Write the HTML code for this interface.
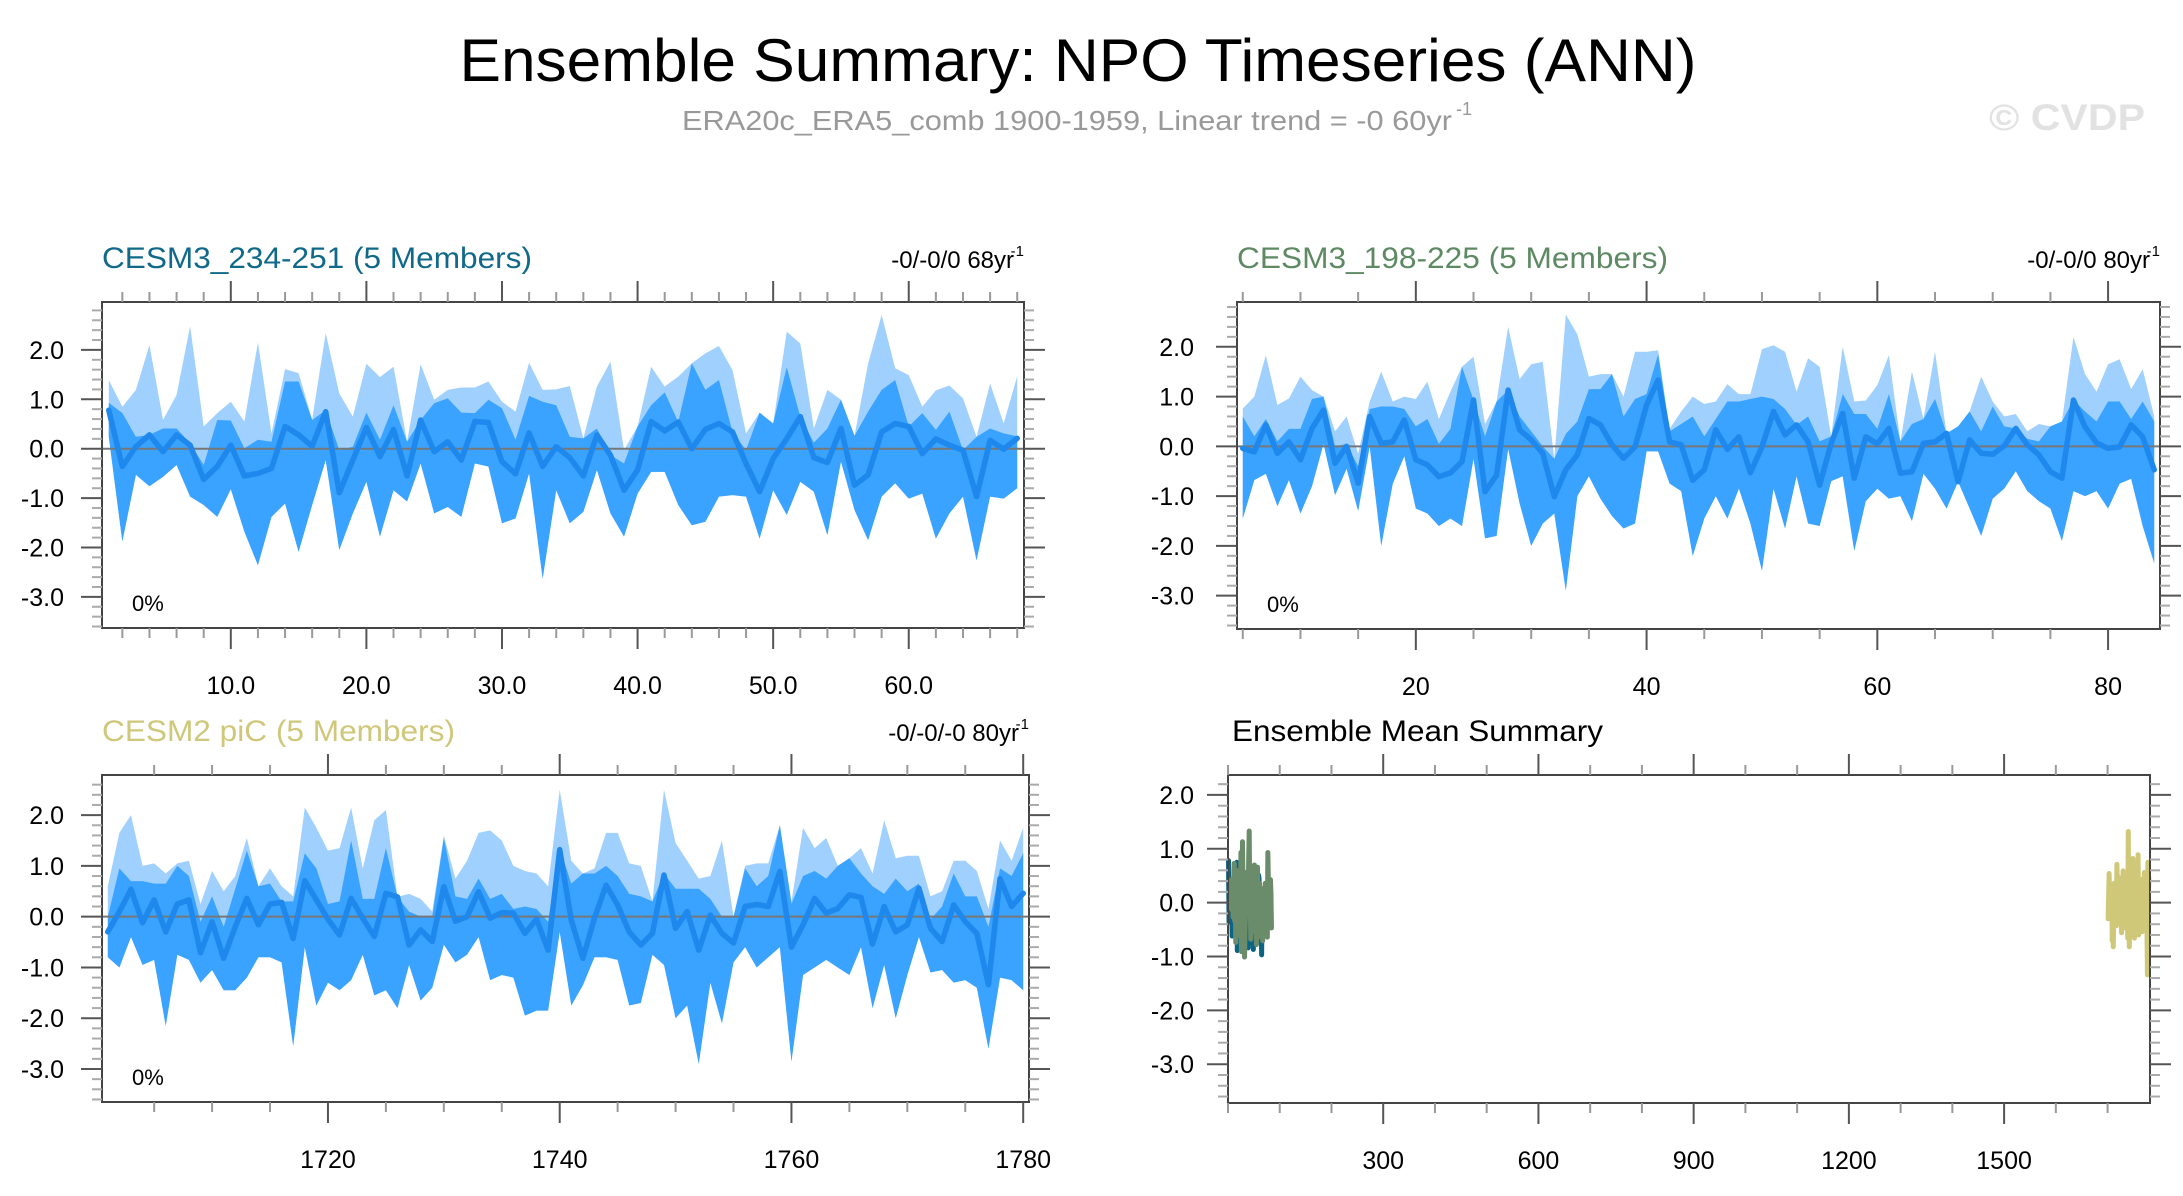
<!DOCTYPE html>
<html><head><meta charset="utf-8">
<style>
html,body{margin:0;padding:0;background:#fff;}
svg{display:block;font-family:"Liberation Sans",sans-serif;}
</style></head>
<body>
<svg id="root" width="2183" height="1196" viewBox="0 0 2183 1196" xmlns="http://www.w3.org/2000/svg">
<text x="1078" y="81" font-size="60" text-anchor="middle" textLength="1237" lengthAdjust="spacingAndGlyphs" fill="#000">Ensemble Summary: NPO Timeseries (ANN)</text>
<text x="682" y="130" font-size="28" fill="#999" textLength="770" lengthAdjust="spacingAndGlyphs">ERA20c_ERA5_comb 1900-1959, Linear trend = -0 60yr</text>
<text x="1456" y="115" font-size="18" fill="#999">-1</text>
<text x="1989" y="130" font-size="37" font-weight="bold" fill="#e2e2e2" textLength="156" lengthAdjust="spacingAndGlyphs">© CVDP</text>
<g id="plots"></g>
</svg>
<script>
// ---- Panel 1: CESM3_234-251 ----
const p1Start = 1;
const p1Mean = [0.78,-0.36,0.04,0.28,-0.06,0.28,0.07,-0.62,-0.36,0.07,-0.55,-0.5,-0.4,0.45,0.28,0.05,0.75,-0.89,-0.23,0.43,-0.16,0.39,-0.55,0.58,-0.06,0.14,-0.23,0.55,0.53,-0.26,-0.51,0.32,-0.36,0.04,-0.18,-0.55,0.28,-0.13,-0.84,-0.43,0.55,0.36,0.54,0.0,0.39,0.51,0.34,-0.3,-0.87,-0.2,0.2,0.65,-0.18,-0.28,0.41,-0.74,-0.53,0.34,0.51,0.45,-0.1,0.2,0.07,-0.03,-0.97,0.17,-0.01,0.21];
const p1Max = [1.39,0.85,1.19,2.1,0.58,1.09,2.48,0.45,0.72,0.95,0.55,2.15,0.31,1.61,1.53,0.59,2.34,1.12,0.65,1.72,1.45,1.66,0.14,1.71,0.99,1.19,1.24,1.24,1.36,0.95,0.75,1.74,1.19,1.2,1.27,0.21,1.26,1.76,-0.03,0.45,1.66,1.26,1.46,1.73,1.93,2.08,1.59,0.31,0.73,0.51,2.37,2.13,0.41,1.19,0.99,0.26,1.72,2.71,1.63,1.49,0.85,1.18,1.28,1.02,0.24,1.32,0.51,1.47];
const p1Upper = [0.93,0.72,0.24,0.01,0.41,0.41,0.11,-0.33,0.58,0.57,0.01,0.18,0.14,1.36,1.36,0.58,0.78,-0.03,0.04,0.73,0.18,0.88,0.18,0.58,0.92,1.02,0.73,0.72,0.99,0.82,0.18,1.07,0.95,0.88,0.24,0.64,0.41,-0.23,-0.3,1.02,0.88,1.14,0.11,1.93,1.19,1.39,0.31,-0.03,0.73,0.68,1.65,0.14,0.12,0.41,0.99,0.58,0.75,1.19,1.39,0.45,0.72,0.38,0.75,-0.03,0.41,0.41,0.31,0.25];
const p1Min = [0.24,-1.88,-0.53,-0.76,-0.57,-0.33,-0.97,-1.14,-1.38,-0.82,-1.68,-2.36,-1.38,-1.11,-2.09,-1.14,-0.23,-2.05,-1.31,-0.67,-1.78,-0.84,-1.07,-0.3,-1.31,-1.18,-1.38,-0.3,-0.36,-1.51,-1.41,-0.5,-2.63,-0.84,-1.51,-1.28,-0.43,-1.31,-1.78,-0.91,-0.47,-0.47,-1.14,-1.55,-1.48,-0.97,-0.94,-0.97,-1.82,-0.84,-1.34,-0.67,-0.87,-1.75,-0.26,-1.24,-1.85,-0.97,-0.7,-1.01,-0.91,-1.82,-1.31,-0.97,-2.26,-0.97,-1.01,-0.8];
const p1XTicks = [10,20,30,40,50,60];
const p1XLabels = ["10.0","20.0","30.0","40.0","50.0","60.0"];

// ---- Panel 2: CESM3_198-225 ----
const p2Start = 5;
const p2Mean = [-0.04,-0.11,0.43,-0.14,0.09,-0.27,0.36,0.73,-0.34,0,-0.74,0.6,0.06,0.09,0.53,-0.27,-0.37,-0.61,-0.53,-0.31,0.93,-0.91,-0.58,1.13,0.33,0.13,-0.14,-1.01,-0.47,-0.17,0.56,0.43,0.03,-0.24,-0.01,0.83,1.33,0.09,0.03,-0.68,-0.47,0.33,-0.06,0.19,-0.53,-0.01,0.7,0.23,0.43,0.09,-0.78,0.06,0.66,-0.64,0.19,0.05,0.36,-0.54,-0.51,0.06,0.09,0.26,-0.71,0.13,-0.14,-0.16,0.01,0.36,0.03,-0.17,-0.51,-0.64,0.93,0.39,0.07,-0.04,-0.01,0.43,0.19,-0.47];
const p2Max = [0.76,1.0,1.83,0.83,0.96,1.4,1.13,1.0,0.3,0.6,-0.15,0.9,1.5,0.9,1.0,0.95,1.3,0.55,1.1,1.6,1.8,0.45,0.9,2.4,1.35,1.65,1.7,-0.25,2.65,2.25,1.4,1.45,1.45,1.0,1.9,1.9,1.93,0.35,0.7,1.0,0.85,0.9,1.25,1.05,1.05,1.95,2.03,1.9,1.1,1.77,1.6,0.2,2.0,0.9,0.92,1.23,1.83,0.1,1.5,0.55,1.9,-0.14,0.4,0.7,1.4,0.9,0.6,0.65,0.3,0.45,0.4,0.5,2.2,1.45,1.1,1.65,1.75,1.15,1.55,0.6];
const p2Upper = [0.6,0.2,0.55,0.1,0.35,0.35,0.95,1.0,0.0,0.05,-0.4,0.75,0.8,0.8,0.75,0.4,0.55,0.05,0.35,1.6,-0.1,0.2,1.75,0.6,0.6,0.3,0.0,-0.1,0.25,0.5,1.15,1.15,1.45,0.6,0.95,1.05,1.85,0.3,0.45,0.6,0.2,0.55,0.9,0.9,0.95,1.0,0.95,0.75,0.3,0.6,0.1,0.5,1.05,0.65,0.65,0.35,1.05,0.1,0.45,0.55,0.95,0.05,0.6,0.75,0.3,0.8,0.4,0.35,0.15,0.1,0.95,0.85,0.7,0.7,0.5,0.9,0.9,0.55,0.9,0.5];
const p2Min = [-1.45,-0.68,-0.55,-1.2,-0.68,-1.35,-0.8,0.05,-0.98,-0.45,-1.3,0.0,-2.0,-0.75,-0.2,-1.25,-1.35,-1.6,-1.45,-1.6,-0.25,-1.85,-1.8,-0.05,-1.15,-2.0,-1.55,-1.35,-2.9,-1.0,-0.6,-1.05,-1.4,-1.65,-1.55,-0.1,-0.1,-0.75,-0.9,-2.2,-1.45,-1.0,-1.45,-0.85,-1.55,-2.5,-0.85,-1.65,-0.6,-1.55,-1.6,-0.7,-0.6,-2.1,-1.1,-0.85,-1.05,-1.0,-1.5,-0.55,-0.85,-1.25,-0.55,-1.25,-1.8,-1.05,-0.85,-0.5,-0.9,-1.1,-1.25,-1.9,-0.9,-1.0,-0.9,-1.25,-0.75,-0.65,-1.6,-2.35];
const p2XTicks = [20,40,60,80];
const p2XLabels = ["20","40","60","80"];

// ---- Panel 3: CESM2 piC ----
const p3Start = 1701;
const p3Mean = [-0.3,0.1,0.54,-0.12,0.33,-0.3,0.25,0.33,-0.71,-0.1,-0.82,-0.2,0.36,-0.16,0.25,0.28,-0.43,0.71,0.33,-0.05,-0.36,0.36,-0.03,-0.39,0.46,0.39,-0.56,-0.26,-0.49,0.59,-0.09,0,0.49,-0.03,0.08,0.07,-0.33,-0.05,-0.66,1.32,-0.07,-0.82,-0.03,0.62,0.23,-0.3,-0.56,-0.33,0.82,-0.23,0.1,-0.66,0.03,-0.33,-0.52,0.2,0.24,0.2,0.89,-0.6,-0.16,0.36,0.07,0.16,0.43,0.38,-0.54,0.2,-0.3,-0.16,0.56,-0.23,-0.49,0.23,-0.1,-0.33,-1.34,0.75,0.2,0.46];
const p3Max = [0.6,1.65,2.0,1.0,1.05,0.85,1.05,1.1,0.25,0.9,0.5,0.8,1.55,0.6,0.95,0.6,0.4,2.15,1.75,1.3,1.35,2.15,0.95,1.9,2.1,0.05,0.45,0.35,0.1,1.6,0.75,1.1,1.65,1.7,1.5,1.0,0.9,0.85,0.6,2.5,1.1,0.85,0.95,1.65,1.65,1.05,1.0,0.3,2.5,1.45,1.1,0.75,0.8,1.5,0.0,1.0,1.05,1.05,1.8,0.3,1.75,1.35,1.55,1.0,1.15,1.35,0.85,1.9,1.15,1.2,1.2,0.4,0.5,1.1,1.1,0.9,0.15,1.5,1.1,1.75];
const p3Upper = [0.0,0.95,0.7,0.7,0.65,0.65,1.0,0.8,-0.1,0.4,-0.2,0.55,1.3,0.65,0.65,0.3,0.3,1.25,0.95,0.25,0.3,1.5,0.35,0.35,1.35,0.15,0.1,0.0,0.0,1.55,0.4,0.35,0.75,0.35,0.45,0.15,0.2,0.15,-0.1,1.35,0.65,0.85,0.85,1.0,0.8,0.45,0.4,0.3,0.85,0.55,0.55,0.55,0.35,0.0,0.45,0.95,0.6,0.8,1.8,0.25,0.8,0.9,0.75,1.4,1.2,0.85,0.6,0.45,0.75,0.5,0.65,-0.05,0.2,0.85,0.4,0.4,-0.2,0.95,0.8,1.25];
const p3Min = [-0.8,-1.0,-0.4,-0.95,-0.85,-2.15,-0.75,-0.85,-1.3,-1.05,-1.45,-1.45,-1.2,-0.8,-0.8,-0.9,-2.55,-0.6,-1.75,-1.3,-1.45,-1.25,-0.75,-1.55,-1.45,-1.8,-0.95,-1.65,-1.4,-0.55,-0.9,-0.75,-0.4,-1.25,-1.15,-1.2,-1.95,-1.85,-1.85,-0.3,-1.75,-1.35,-0.8,-0.8,-0.85,-1.75,-1.7,-0.75,-0.95,-2.0,-1.75,-2.9,-1.3,-2.1,-0.9,-0.6,-1.0,-0.8,-0.6,-2.85,-1.15,-1.0,-0.85,-1.0,-1.15,-0.6,-1.8,-0.95,-2.0,-1.15,-0.4,-1.1,-1.05,-1.3,-1.25,-1.4,-2.6,-1.2,-1.25,-1.45];
const p3XTicks = [1720,1740,1760,1780];
const p3XLabels = ["1720","1740","1760","1780"];

// ---- Panel 4: ensemble mean summary ----
const p4XTicks = [300,600,900,1200,1500];
const p4XLabels = ["300","600","900","1200","1500"];
const yTicks = [2,1,0,-1,-2,-3];
const yLabels = ["2.0","1.0","0.0","-1.0","-2.0","-3.0"];

const NS = "http://www.w3.org/2000/svg";
const plots = document.getElementById('plots');
function mk(tag, attrs, parent){
  const e = document.createElementNS(NS, tag);
  for (const k in attrs) e.setAttribute(k, attrs[k]);
  (parent||plots).appendChild(e);
  return e;
}
function makeScale(d0,d1,r0,r1){ return v => r0 + (v-d0)/(d1-d0)*(r1-r0); }

function drawAxes(g, P, xs, ys, xMinor, xMajor, xLabels, yLabelsRightX){
  const {L,R,T,B,x0,x1,y0,y1} = P;
  for (let v = Math.ceil(x0/xMinor)*xMinor; v <= x1; v += xMinor){
    const isMaj = xMajor.includes(v);
    const len = isMaj ? 21 : 10;
    const col = isMaj ? '#555' : '#999';
    const px = xs(v);
    const tb = mk('line',{x1:px,x2:px,y1:B,y2:B+len,stroke:col,'stroke-width':2},g);
    
    
    const tt = mk('line',{x1:px,x2:px,y1:T,y2:T-len,stroke:col,'stroke-width':2},g);
    
    
  }
  xMajor.forEach((v,i)=>{
    const t = mk('text',{x:xs(v),y:B+66,'font-size':25,'text-anchor':'middle',fill:'#000'},g);
    t.textContent = xLabels[i];
    
    
  });
  for (let k = Math.ceil(y1*5); k <= Math.floor(y0*5); k++){
    const v = k/5;
    const isMaj = (k % 5 === 0);
    const len = isMaj ? 21 : 10;
    const col = isMaj ? '#555' : '#aaa';
    const py = ys(v);
    const tl = mk('line',{x1:L,x2:L-len,y1:py,y2:py,stroke:col,'stroke-width':2},g);
    
    
    const tr = mk('line',{x1:R,x2:R+len,y1:py,y2:py,stroke:col,'stroke-width':2},g);
    
    
  }
  yTicks.forEach((v,i)=>{
    const t = mk('text',{x:yLabelsRightX,y:ys(v)+9,'font-size':25,'text-anchor':'end',fill:'#000'},g);
    t.textContent = yLabels[i];
    
    
  });
}

function drawBandPanel(name, P, start, mean, upper, mx, mn, xMinor, xMajor, xLabels, yLabRX, title, titleColor, trend){
  const g = mk('g',{});
  
  
  const xs = makeScale(P.x0,P.x1,P.L,P.R);
  const ys = makeScale(P.y0,P.y1,P.T,P.B);
  const n = mean.length;
  const X = i => xs(start+i);
  const hi = i => Math.max(mx[i], mean[i]);
  const up = i => Math.min(Math.max(upper[i], mean[i]), hi(i));
  const lo = i => Math.min(mn[i], mean[i]);
  let top='', bot='', upPts='';
  for (let i=0;i<n;i++){ top += (i?'L':'M')+X(i)+','+ys(hi(i)); upPts += (i?'L':'M')+X(i)+','+ys(up(i)); }
  for (let i=n-1;i>=0;i--){ bot += 'L'+X(i)+','+ys(lo(i)); }
  const light = mk('path',{d:top+bot+'Z',fill:'#a0d0fe'},g);
  
  
  const dark = mk('path',{d:upPts+bot+'Z',fill:'#3aa2ff'},g);
  
  
  const zl = mk('line',{x1:P.L,x2:P.R,y1:ys(0),y2:ys(0),stroke:'#777','stroke-width':2},g);
  
  
  let ml='';
  for (let i=0;i<n;i++) ml += (i?'L':'M')+X(i)+','+ys(mean[i]);
  const line = mk('path',{d:ml,fill:'none',stroke:'#1e88ec','stroke-width':5.5,'stroke-linejoin':'round','stroke-linecap':'round'},g);
  
  
  const box = mk('rect',{x:P.L,y:P.T,width:P.R-P.L,height:P.B-P.T,fill:'none',stroke:'#444','stroke-width':2},g);
  
  
  drawAxes(g,P,xs,ys,xMinor,xMajor,xLabels,yLabRX);
  const t = mk('text',{x:P.L,y:P.T-34,'font-size':30,fill:titleColor,textLength:title.len,lengthAdjust:'spacingAndGlyphs'},g);
  t.textContent = title.text;
  
  
  const tr = mk('text',{x:P.R-10,y:P.T-34,'font-size':24,'text-anchor':'end',fill:'#000'},g);
  tr.textContent = trend;
  
  
  const sup = mk('text',{x:P.R,y:P.T-46,'font-size':15,'text-anchor':'end',fill:'#000'},g);
  sup.textContent = '-1';
  
  
  const pc = mk('text',{x:P.L+30,y:P.B-17,'font-size':22,fill:'#000'},g);
  pc.textContent = '0%';
  
  
}

drawBandPanel('panel-cesm3-234-251',{L:102,R:1024,T:302,B:628,x0:0.5,x1:68.5,y0:2.97,y1:-3.63},
  p1Start,p1Mean,p1Upper,p1Max,p1Min,2,p1XTicks,p1XLabels,64,
  {text:'CESM3_234-251 (5 Members)',len:430},'#11698a','-0/-0/0 68yr');
drawBandPanel('panel-cesm3-198-225',{L:1237,R:2160,T:302,B:629,x0:4.5,x1:84.5,y0:2.9,y1:-3.67},
  p2Start,p2Mean,p2Upper,p2Max,p2Min,5,p2XTicks,p2XLabels,1194,
  {text:'CESM3_198-225 (5 Members)',len:431},'#5e8a63','-0/-0/0 80yr');
drawBandPanel('panel-cesm2-pic',{L:102,R:1029,T:775,B:1102,x0:1700.5,x1:1780.5,y0:2.79,y1:-3.65},
  p3Start,p3Mean,p3Upper,p3Max,p3Min,5,p3XTicks,p3XLabels,64,
  {text:'CESM2 piC (5 Members)',len:353},'#cfc77a','-0/-0/-0 80yr');

// Panel 4
(function(){
  const P = {L:1228,R:2150,T:775,B:1103,x0:0,x1:1782,y0:2.37,y1:-3.72};
  const g = mk('g',{});
  
  
  const xs = makeScale(P.x0,P.x1,P.L,P.R);
  const ys = makeScale(P.y0,P.y1,P.T,P.B);
  const series = [
    {name:'mean-line-cesm3-234-251', start:p1Start, vals:p1Mean, col:'#0a6585'},
    {name:'mean-line-cesm3-198-225', start:p2Start, vals:p2Mean, col:'#6a8c6a'},
    {name:'mean-line-cesm2-pic', start:p3Start, vals:p3Mean, col:'#cfc878'}
  ];
  series.forEach(s=>{
    let d='';
    s.vals.forEach((v,i)=>{ d += (i?'L':'M')+xs(s.start+i)+','+ys(v); });
    const p = mk('path',{d:d,fill:'none',stroke:s.col,'stroke-width':5,'stroke-linejoin':'round','stroke-linecap':'round'},g);
    
    
  });
  const box = mk('rect',{x:P.L,y:P.T,width:P.R-P.L,height:P.B-P.T,fill:'none',stroke:'#444','stroke-width':2},g);
  
  
  drawAxes(g,P,xs,ys,100,p4XTicks,p4XLabels,1194);
  const t = mk('text',{x:1232,y:P.T-34,'font-size':30,fill:'#000',textLength:371,lengthAdjust:'spacingAndGlyphs'},g);
  t.textContent = 'Ensemble Mean Summary';
  
  
})();
</script>
</body></html>
